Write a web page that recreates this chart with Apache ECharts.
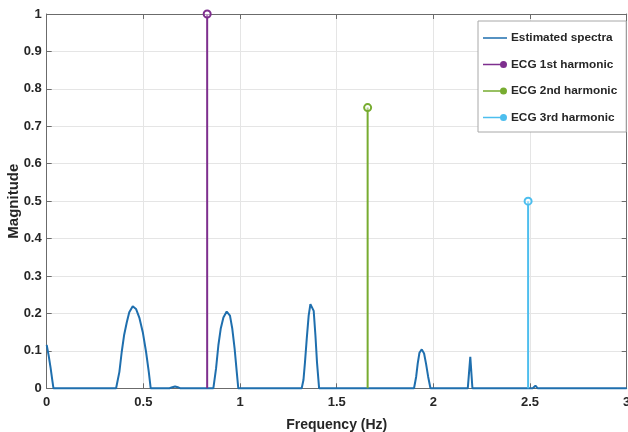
<!DOCTYPE html>
<html>
<head>
<meta charset="utf-8">
<script src="https://cdn.jsdelivr.net/npm/echarts@6/dist/echarts.min.js"></script>
<style>
html,body{margin:0;padding:0;background:#fff;}
#chart{width:628px;height:432px;}
</style>
</head>
<body>
<div id="chart"></div>
<script>
// Estimated spectrum (frequency in Hz, magnitude)
var spectrumFreq = [0, 0.01, 0.02, 0.03, 0.035,
  0.359, 0.376, 0.388, 0.400, 0.414, 0.427, 0.445, 0.462, 0.479, 0.497, 0.514, 0.528, 0.538,
  0.635, 0.650, 0.664, 0.678, 0.692,
  0.862, 0.876, 0.888, 0.900, 0.914, 0.931, 0.948, 0.960, 0.972, 0.983, 0.991,
  1.319, 1.328, 1.336, 1.345, 1.355, 1.364, 1.373, 1.381, 1.390, 1.398, 1.409,
  1.900, 1.911, 1.919, 1.928, 1.940, 1.952, 1.962, 1.973, 1.985,
  2.178, 2.191, 2.202,
  2.514, 2.528, 2.540, 3.0];
var spectrumMag = [0.116, 0.088, 0.055, 0.018, 0,
  0, 0.044, 0.097, 0.141, 0.176, 0.203, 0.219, 0.212, 0.189, 0.150, 0.097, 0.044, 0,
  0, 0.003, 0.005, 0.003, 0,
  0, 0.053, 0.115, 0.159, 0.189, 0.205, 0.194, 0.159, 0.106, 0.044, 0,
  0, 0.022, 0.070, 0.132, 0.194, 0.225, 0.229, 0.207, 0.141, 0.070, 0,
  0, 0.031, 0.066, 0.095, 0.104, 0.093, 0.066, 0.031, 0,
  0, 0.084, 0,
  0, 0.007, 0, 0];

// ECG harmonics (stems)
var harmonicNames = ['ECG 1st harmonic', 'ECG 2nd harmonic', 'ECG 3rd harmonic'];
var harmonicFreq = [0.83, 1.66, 2.49];
var harmonicMag = [1, 0.75, 0.5];
var harmonicColors = ['#7E2F8E', '#77AC30', '#4DBEEE'];
var spectrumName = 'Estimated spectra';
var spectrumColor = '#1f6fae';

// Axis ticks
var xTicks = [0, 0.5, 1, 1.5, 2, 2.5, 3];
var yTicks = [0, 0.1, 0.2, 0.3, 0.4, 0.5, 0.6, 0.7, 0.8, 0.9, 1];

var FONT = '"Liberation Sans", Arial, sans-serif';
var TXT = '#262626';
var AXC = '#6b6b6b';
var GRIDC = '#e5e5e5';

var spectrumData = spectrumFreq.map(function (f, i) { return [f, spectrumMag[i]]; });

var stemIcon = 'path://M0,2.7 L19,2.7 L19,4.3 L0,4.3 Z M17,3.5 A3.5,3.5 0 1 1 24,3.5 A3.5,3.5 0 1 1 17,3.5 Z';
var lineIcon = 'path://M0,2.7 L24,2.7 L24,4.3 L0,4.3 Z M0,0 L0.01,0 L0.01,0.01 Z M0,7 L0.01,7 L0.01,6.99 Z';

var series = [{
  name: spectrumName,
  type: 'line',
  data: spectrumData,
  symbol: 'none',
  clip: false,
  lineStyle: { color: spectrumColor, width: 2 },
  itemStyle: { color: spectrumColor },
  z: 3
}];
harmonicNames.forEach(function (n, i) {
  series.push({
    name: n,
    type: 'line',
    clip: false,
    data: [
      { value: [harmonicFreq[i], 0], symbol: 'none' },
      { value: [harmonicFreq[i], harmonicMag[i]], symbol: 'circle', symbolSize: 7 }
    ],
    lineStyle: { color: harmonicColors[i], width: 2 },
    itemStyle: { color: 'rgba(255,255,255,0.45)', borderColor: harmonicColors[i], borderWidth: 2 },
    z: 4
  });
});

var legendData = [{ name: spectrumName, icon: lineIcon, itemStyle: { color: spectrumColor, borderWidth: 0 } }];
harmonicNames.forEach(function (n, i) {
  legendData.push({ name: n, icon: stemIcon, itemStyle: { color: harmonicColors[i], borderWidth: 0 } });
});

var chart = echarts.init(document.getElementById('chart'), null, { renderer: 'canvas' });
chart.setOption({
  animation: false,
  backgroundColor: '#fff',
  grid: { left: 46.7, right: 1.3, top: 14, bottom: 43.7, containLabel: false, outerBoundsMode: 'none' },
  legend: {
    data: legendData,
    orient: 'vertical',
    left: 478,
    top: 21,
    padding: [11, 9, 8.5, 5],
    itemWidth: 24,
    itemHeight: 7,
    itemGap: 14.5,
    backgroundColor: '#fff',
    borderColor: '#a8a8a8',
    borderWidth: 1,
    borderRadius: 0,
    textStyle: { fontFamily: FONT, fontWeight: 'bold', fontSize: 11.8, color: TXT, padding: [0, 0, 0, -1] },
    z: 10
  },
  xAxis: [{
    type: 'value',
    min: 0, max: 3, interval: 0.5,
    name: 'Frequency (Hz)',
    nameLocation: 'middle',
    nameGap: 30,
    nameTextStyle: { fontFamily: FONT, fontWeight: 'bold', fontSize: 14, color: TXT },
    axisLine: { show: true, onZero: false, lineStyle: { color: AXC, width: 1 } },
    axisTick: { show: true, inside: true, length: 5, lineStyle: { color: AXC } },
    axisLabel: {
      fontFamily: FONT, fontWeight: 'bold', fontSize: 13, color: TXT, margin: 8,
      showMinLabel: true, showMaxLabel: true,
      formatter: function (v) { return String(+v.toFixed(2)); }
    },
    splitLine: { show: true, lineStyle: { color: GRIDC, width: 1 } }
  }, {
    type: 'value', position: 'top',
    min: 0, max: 3, interval: 0.5,
    axisLine: { show: true, onZero: false, lineStyle: { color: AXC, width: 1 } },
    axisTick: { show: true, inside: true, length: 5, lineStyle: { color: AXC } },
    axisLabel: { show: false },
    splitLine: { show: false }
  }],
  yAxis: [{
    type: 'value',
    min: 0, max: 1, interval: 0.1,
    name: 'Magnitude',
    nameLocation: 'middle',
    nameGap: 25,
    nameMoveOverlap: false,
    nameRotate: 90,
    nameTextStyle: { fontFamily: FONT, fontWeight: 'bold', fontSize: 15, color: TXT },
    axisLine: { show: true, onZero: false, lineStyle: { color: AXC, width: 1 } },
    axisTick: { show: true, inside: true, length: 5, lineStyle: { color: AXC } },
    axisLabel: {
      fontFamily: FONT, fontWeight: 'bold', fontSize: 13, color: TXT, margin: 5,
      formatter: function (v) { return String(+v.toFixed(2)); }
    },
    splitLine: { show: true, lineStyle: { color: GRIDC, width: 1 } }
  }, {
    type: 'value', position: 'right',
    min: 0, max: 1, interval: 0.1,
    axisLine: { show: true, onZero: false, lineStyle: { color: AXC, width: 1 } },
    axisTick: { show: true, inside: true, length: 5, lineStyle: { color: AXC } },
    axisLabel: { show: false },
    splitLine: { show: false }
  }],
  series: series
});
</script>
</body>
</html>
